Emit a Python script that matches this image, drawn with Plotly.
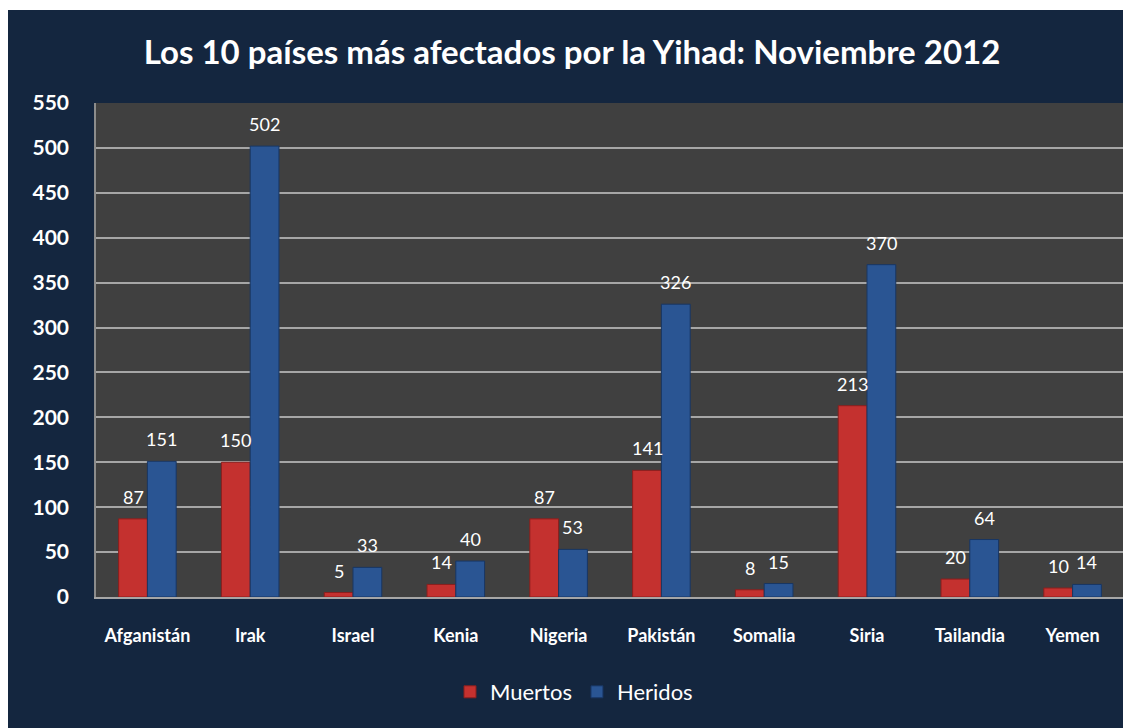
import plotly.graph_objects as go

paises = ["Afganistán", "Irak", "Israel", "Kenia", "Nigeria", "Pakistán",
          "Somalia", "Siria", "Tailandia", "Yemen"]
muertos = [87, 150, 5, 14, 87, 141, 8, 213, 20, 10]
heridos = [151, 502, 33, 40, 53, 326, 15, 370, 64, 14]
y_ticks = [0, 50, 100, 150, 200, 250, 300, 350, 400, 450, 500, 550]

NAVY = "#14263f"
PLOT = "#404040"
FONT = "Lato"

# the page body has an 8px margin, so the figure starts at (8, 8) on screen
OX, OY = 8, 8
W, H = 1123, 720
L, R, T, B = 88, 7, 95, 131
pw, ph = W - L - R, H - T - B
BARGAP = 0.44
bar_px = pw / len(paises) * (1 - BARGAP) / 2

def px_x(sx):
    return (sx - OX - L) / pw

def px_y(sy):
    return (H - B - (sy - OY)) / ph

fig = go.Figure()
fig.add_bar(x=paises, y=muertos, name="Muertos",
            marker=dict(color="#c4312f", line=dict(color="#8a1f1d", width=1)))
fig.add_bar(x=paises, y=heridos, name="Heridos",
            marker=dict(color="#2a5593", line=dict(color="#183663", width=1)))

annotations = []
for serie, shift in ((muertos, -bar_px / 2), (heridos, bar_px / 2)):
    for p, v in zip(paises, serie):
        annotations.append(dict(
            x=p, y=v, xref="x", yref="y", text=str(v), showarrow=False,
            xshift=shift, yshift=22, yanchor="middle", xanchor="center",
            font=dict(color="white", size=18, family=FONT)))

fig.update_layout(
    width=W, height=H,
    margin=dict(l=L, r=R, t=T, b=B, autoexpand=False),
    paper_bgcolor=NAVY, plot_bgcolor=PLOT,
    barmode="group", bargap=BARGAP, bargroupgap=0,
    title=dict(text="<b>Los 10 países más afectados por la Yihad: Noviembre 2012</b>",
               x=px_x(572), xanchor="center", xref="paper",
               y=1 - (52 - OY) / H, yanchor="middle",
               font=dict(color="white", size=33, family=FONT)),
    font=dict(family=FONT, color="white"),
    legend=dict(orientation="h", x=px_x(450), xanchor="left",
                y=px_y(692), yanchor="middle",
                font=dict(color="white", size=22, family=FONT),
                itemwidth=30, bgcolor="rgba(0,0,0,0)"),
    annotations=annotations,
    shapes=[
        dict(type="rect", xref="paper", yref="paper",
             x0=px_x(0), x1=px_x(1200), y0=px_y(10), y1=px_y(0),
             fillcolor="white", line=dict(width=0), layer="above"),
    ],
)
fig.update_yaxes(range=[0, 550], tickvals=y_ticks, ticktext=[str(v) for v in y_ticks],
                 showgrid=True, gridcolor="#a6a6a6", gridwidth=1.5,
                 zeroline=False, showline=True, linecolor="#8c8c8c", linewidth=1.5,
                 ticks="", ticklabelstandoff=21,
                 tickfont=dict(color="white", size=21, family=FONT, weight="bold"))
fig.update_xaxes(showline=True, linecolor="#a6a6a6", linewidth=1.5,
                 ticks="", ticklabelstandoff=22,
                 tickfont=dict(color="white", size=18, family=FONT, weight="bold"))

fig.write_html("out.html")
